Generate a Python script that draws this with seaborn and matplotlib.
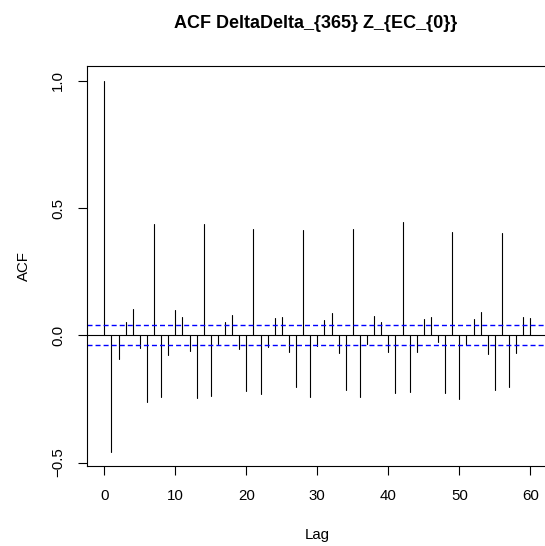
import numpy as np
import pandas as pd
import matplotlib
matplotlib.use("Agg")
import matplotlib.pyplot as plt
import seaborn as sns

lags = list(range(61))
acf_values = [
    1.000, -0.457, -0.094, 0.052, 0.105, -0.051, -0.262, 0.437, -0.241, -0.079,
    0.100, 0.071, -0.060, -0.245, 0.437, -0.238, -0.035, 0.054, 0.080, -0.055,
    -0.218, 0.416, -0.232, -0.047, 0.067, 0.071, -0.064, -0.203, 0.412, -0.241,
    -0.041, 0.060, 0.086, -0.068, -0.216, 0.416, -0.241, -0.034, 0.077, 0.051,
    -0.067, -0.225, 0.445, -0.223, -0.065, 0.065, 0.071, -0.027, -0.228, 0.406,
    -0.249, -0.037, 0.064, 0.092, -0.075, -0.216, 0.403, -0.204, -0.068, 0.073,
    0.067,
]
ci_bound = 0.039
x_ticks = [0, 10, 20, 30, 40, 50, 60]
y_ticks = [-0.5, 0.0, 0.5, 1.0]
y_ticklabels = ["-0.5", "0.0", "0.5", "1.0"]
title = "ACF DeltaDelta_{365} Z_{EC_{0}}"

sns.set_style("ticks")
plt.rcParams['font.family'] = ['Liberation Sans', 'DejaVu Sans']
plt.rcParams['text.color'] = 'black'
plt.rcParams['axes.labelcolor'] = 'black'
plt.rcParams['xtick.color'] = 'black'
plt.rcParams['ytick.color'] = 'black'

# long-form table: each lag gives a segment from 0 to its value
seg = pd.DataFrame({
    "lag": np.repeat(lags, 2),
    "acf": np.ravel([[0.0, v] for v in acf_values]),
})

W, H = 545, 546
px_per_lag = 7.1
x0_px = 104.3
left_px, right_px = 87.3, 580.0
fig = plt.figure(figsize=(W / 100, H / 100), dpi=100)
ax = fig.add_axes([left_px / W, (H - 466.4) / H, (right_px - left_px) / W, (466.4 - 66.0) / H])

sns.lineplot(data=seg, x="lag", y="acf", units="lag", estimator=None,
             color="black", linewidth=0.8, ax=ax, legend=False)
ax.axhline(0, color="black", linewidth=0.8)
ax.axhline(ci_bound, color="#0000ff", linewidth=1.0, linestyle=(0, (3.6, 2.2)))
ax.axhline(-ci_bound, color="#0000ff", linewidth=1.0, linestyle=(0, (3.6, 2.2)))

ax.set_xlim((left_px - x0_px) / px_per_lag, (right_px - x0_px) / px_per_lag)
ax.set_ylim(-0.515, 1.058)
ax.set_xticks(x_ticks)
ax.set_xticklabels([str(t) for t in x_ticks], fontsize=10.8)
ax.set_yticks(y_ticks)
ax.set_yticklabels([t.replace("-", "\u2212") for t in y_ticklabels], fontsize=10.8,
                   rotation=90, va="center")
ax.tick_params(axis="both", length=6.5, width=0.8, color="black", pad=9.5)
ax.spines["right"].set_visible(False)
for s in ax.spines.values():
    s.set_linewidth(0.8)
    s.set_color("black")
ax.set_xlabel("Lag", fontsize=10.8, labelpad=19)
ax.xaxis.set_label_coords((317 - left_px) / (right_px - left_px), -0.155)
ax.set_ylabel("ACF", fontsize=10.8, labelpad=14.5)
ax.set_title(title, fontsize=13, fontweight="bold", pad=27,
             x=(316 - left_px) / (right_px - left_px))

fig.savefig("out.png", dpi=100)
